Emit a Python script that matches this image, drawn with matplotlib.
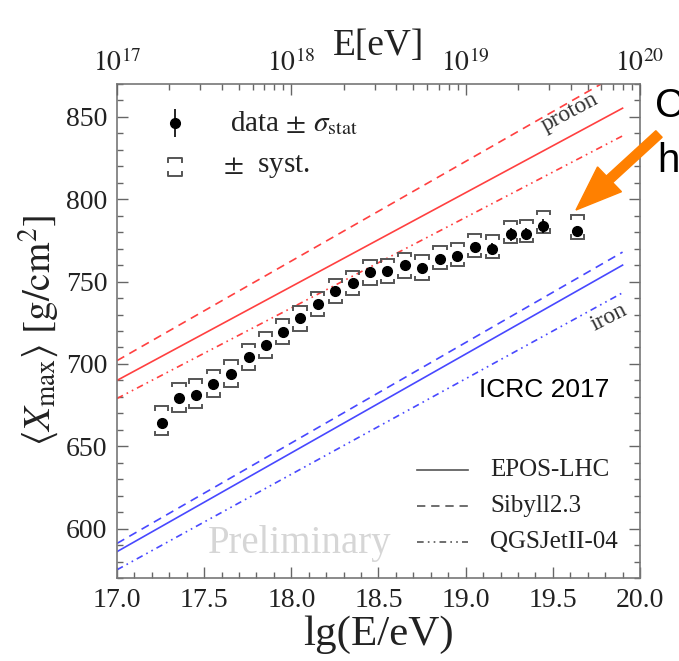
import numpy as np
import matplotlib
matplotlib.use("Agg")
import matplotlib.pyplot as plt
from matplotlib.patches import FancyArrow

plt.rcParams['font.family'] = ['Liberation Serif', 'DejaVu Serif']
plt.rcParams['mathtext.fontset'] = 'stix'

# ---- data ----
lgE = [17.256, 17.356, 17.451, 17.552, 17.654, 17.755, 17.853, 17.951, 18.050,
       18.151, 18.252, 18.352, 18.451, 18.551, 18.650, 18.749, 18.853, 18.952,
       19.052, 19.153, 19.259, 19.347, 19.446, 19.641]
xmax = [664.2, 679.1, 681.1, 687.6, 693.7, 704.1, 711.2, 719.5, 727.6,
        736.4, 744.1, 749.2, 755.7, 756.4, 760.0, 758.4, 764.0, 765.4,
        770.9, 770.1, 778.8, 778.8, 783.8, 780.8]
stat = [1.5, 1.2, 1.2, 1.2, 1.2, 1.2, 1.3, 1.3, 1.4, 1.5, 1.6, 1.7, 1.8, 2.0,
        2.2, 2.4, 2.6, 2.8, 3.0, 3.2, 4.0, 3.5, 4.3, 3.2]
syst_up = [10, 9.5, 9.5, 8.7, 8.5, 8, 8, 7.5, 7.4, 7.5, 7.5, 7.5, 7.5, 7.5,
           7.5, 7.5, 7.8, 8, 8, 8, 8, 8.5, 9, 9.4]
syst_lo = [7.5, 8, 8, 7.5, 7.5, 7.5, 7.5, 7.3, 7.3, 7.3, 7.3, 7.3, 7.5, 7.5,
           7.7, 7.5, 6.5, 6, 6, 6, 5.2, 5, 4.1, 4.8]

# model predictions: value at lgE=17 and elongation rate per decade
model_range = [17.0, 19.9]
proton = {'EPOS-LHC': (690.0, 57.0), 'Sibyll2.3': (702.0, 60.5), 'QGSJetII-04': (679.0, 55.0)}
iron = {'EPOS-LHC': (586.0, 60.0), 'Sibyll2.3': (591.0, 61.0), 'QGSJetII-04': (575.0, 58.0)}
models = ['EPOS-LHC', 'Sibyll2.3', 'QGSJetII-04']

top_ticks = [1e17, 1e18, 1e19, 1e20]

# ---- figure ----
W, H = 679, 661
fig = plt.figure(figsize=(W / 100, H / 100), dpi=100)
ax = fig.add_axes([117 / W, (H - 578) / H, 523 / W, 494 / H])

styles = {'EPOS-LHC': '-', 'Sibyll2.3': (0, (5, 3.5)),
          'QGSJetII-04': (0, (4, 2.5, 1, 2.5, 1, 2.5))}
red = '#ff4040'
blue = '#4848ff'
xs = np.array(model_range)
for m in models:
    a, b = proton[m]
    ax.plot(xs, a + b * (xs - 17.0), color=red, lw=1.2, ls=styles[m])
    a, b = iron[m]
    ax.plot(xs, a + b * (xs - 17.0), color=blue, lw=1.2, ls=styles[m])

x = np.array(lgE)
y = np.array(xmax)
su = np.array(syst_up)
sl = np.array(syst_lo)
w = 0.038
h = 2.0
for xi, yi, u, l in zip(x, y, su, sl):
    ax.plot([xi - w, xi - w, xi + w, xi + w], [yi + u - h, yi + u, yi + u, yi + u - h],
            color='#555555', lw=1.4, solid_joinstyle='miter')
    ax.plot([xi - w, xi - w, xi + w, xi + w], [yi - l + h, yi - l, yi - l, yi - l + h],
            color='#555555', lw=1.4, solid_joinstyle='miter')
ax.errorbar(x, y, yerr=stat, fmt='o', color='black', ms=7, elinewidth=1.2, capsize=0)

ax.set_xlim(17.0, 20.0)
ax.set_ylim(570, 870)
ax.set_xticks(np.arange(17.0, 20.01, 0.5))
ax.set_xticks(np.arange(17.0, 20.01, 0.1), minor=True)
ax.set_yticks(np.arange(600, 851, 50))
ax.set_yticks(np.arange(570, 871, 10), minor=True)
ax.xaxis.set_major_formatter(matplotlib.ticker.FormatStrFormatter('%.1f'))
ax.tick_params(which='both', direction='in', top=False, right=True, color='#666666',
               labelsize=20, labelcolor='#222222', width=1.0)
ax.tick_params(which='major', length=8, pad=7)
ax.tick_params(which='minor', length=4)
for s in ax.spines.values():
    s.set_color('#777777')
    s.set_linewidth(1.2)

ax.set_xlabel('lg(E/eV)', fontsize=31, color='#222222', labelpad=2)
ax.set_ylabel(r'$\langle X_{\mathrm{max}}\rangle\ [\mathrm{g/cm}^2]$', fontsize=28,
              color='#222222', labelpad=4)

# top axis in energy
ax2 = ax.twiny()
ax2.set_xscale('log')
ax2.set_xlim(10 ** 17.0, 10 ** 20.0)
ax2.set_xticks(top_ticks)
ax2.set_xticklabels([r'$10^{%d}$' % int(np.log10(t)) for t in top_ticks])
ax2.tick_params(which='both', direction='in', color='#666666', labelsize=20,
                labelcolor='#222222', width=1.0)
ax2.tick_params(which='major', length=8, pad=5)
ax2.tick_params(which='minor', length=4)
for s in ax2.spines.values():
    s.set_visible(False)
ax2.set_xlabel('E[eV]', fontsize=27, color='#222222', labelpad=-4)

# annotations
ax.text(19.6, 853, 'proton', rotation=28, fontsize=17, color='#333333',
        ha='center', va='center')
ax.text(19.82, 728, 'iron', rotation=27, fontsize=17, color='#333333',
        ha='center', va='center')
ax.text(0.816, 0.38, 'ICRC 2017', transform=ax.transAxes, fontsize=19,
        family='Liberation Sans', color='black', ha='center', va='center')
ax.text(0.35, 0.07, 'Preliminary', transform=ax.transAxes, fontsize=28,
        color='#d6d6d6', ha='center', va='center')

# upper-left legend
tA = ax.transAxes
ax.errorbar([0.111], [0.921], yerr=[0.029], fmt='o', color='black', ms=7,
            elinewidth=1.2, capsize=0, transform=tA)
bw, bh = 0.013, 0.008
ax.plot([0.111 - bw, 0.111 - bw, 0.111 + bw, 0.111 + bw],
        [0.851 - bh, 0.851, 0.851, 0.851 - bh], color='#555555', lw=1.4, transform=tA)
ax.plot([0.111 - bw, 0.111 - bw, 0.111 + bw, 0.111 + bw],
        [0.813 + bh, 0.813, 0.813, 0.813 + bh], color='#555555', lw=1.4, transform=tA)
ax.text(0.216, 0.921, r'data $\pm$ $\sigma_{\mathrm{stat}}$', transform=tA,
        fontsize=21, color='#222222', va='center', ha='left')
ax.text(0.203, 0.832, r'$\pm$  syst.', transform=tA, fontsize=21,
        color='#222222', va='center', ha='left')

# lower-right legend
rows = [0.219, 0.146, 0.073]
for m, ry in zip(models, rows):
    ax.plot([0.574, 0.671], [ry, ry], color='#555555', lw=1.2, ls=styles[m], transform=tA)
    ax.text(0.713, ry, m, transform=tA, fontsize=18, color='#222222',
            va='center', ha='left')

# slide overlay: arrow and clipped text
fig.patches.append(FancyArrow(659 / W, (H - 134) / H, (576 - 659) / W, (134 - 210) / H,
                              width=9 / H, head_width=34 / H, head_length=46 / W,
                              length_includes_head=True, color='#ff8000',
                              transform=fig.transFigure, figure=fig))
fig.text(655 / W, (H - 117) / H, 'C', fontsize=29, family='Liberation Sans',
         color='black', ha='left', va='baseline')
fig.text(657 / W, (H - 172) / H, 'h', fontsize=29, family='Liberation Sans',
         color='black', ha='left', va='baseline')

fig.savefig('out.png', dpi=100)
